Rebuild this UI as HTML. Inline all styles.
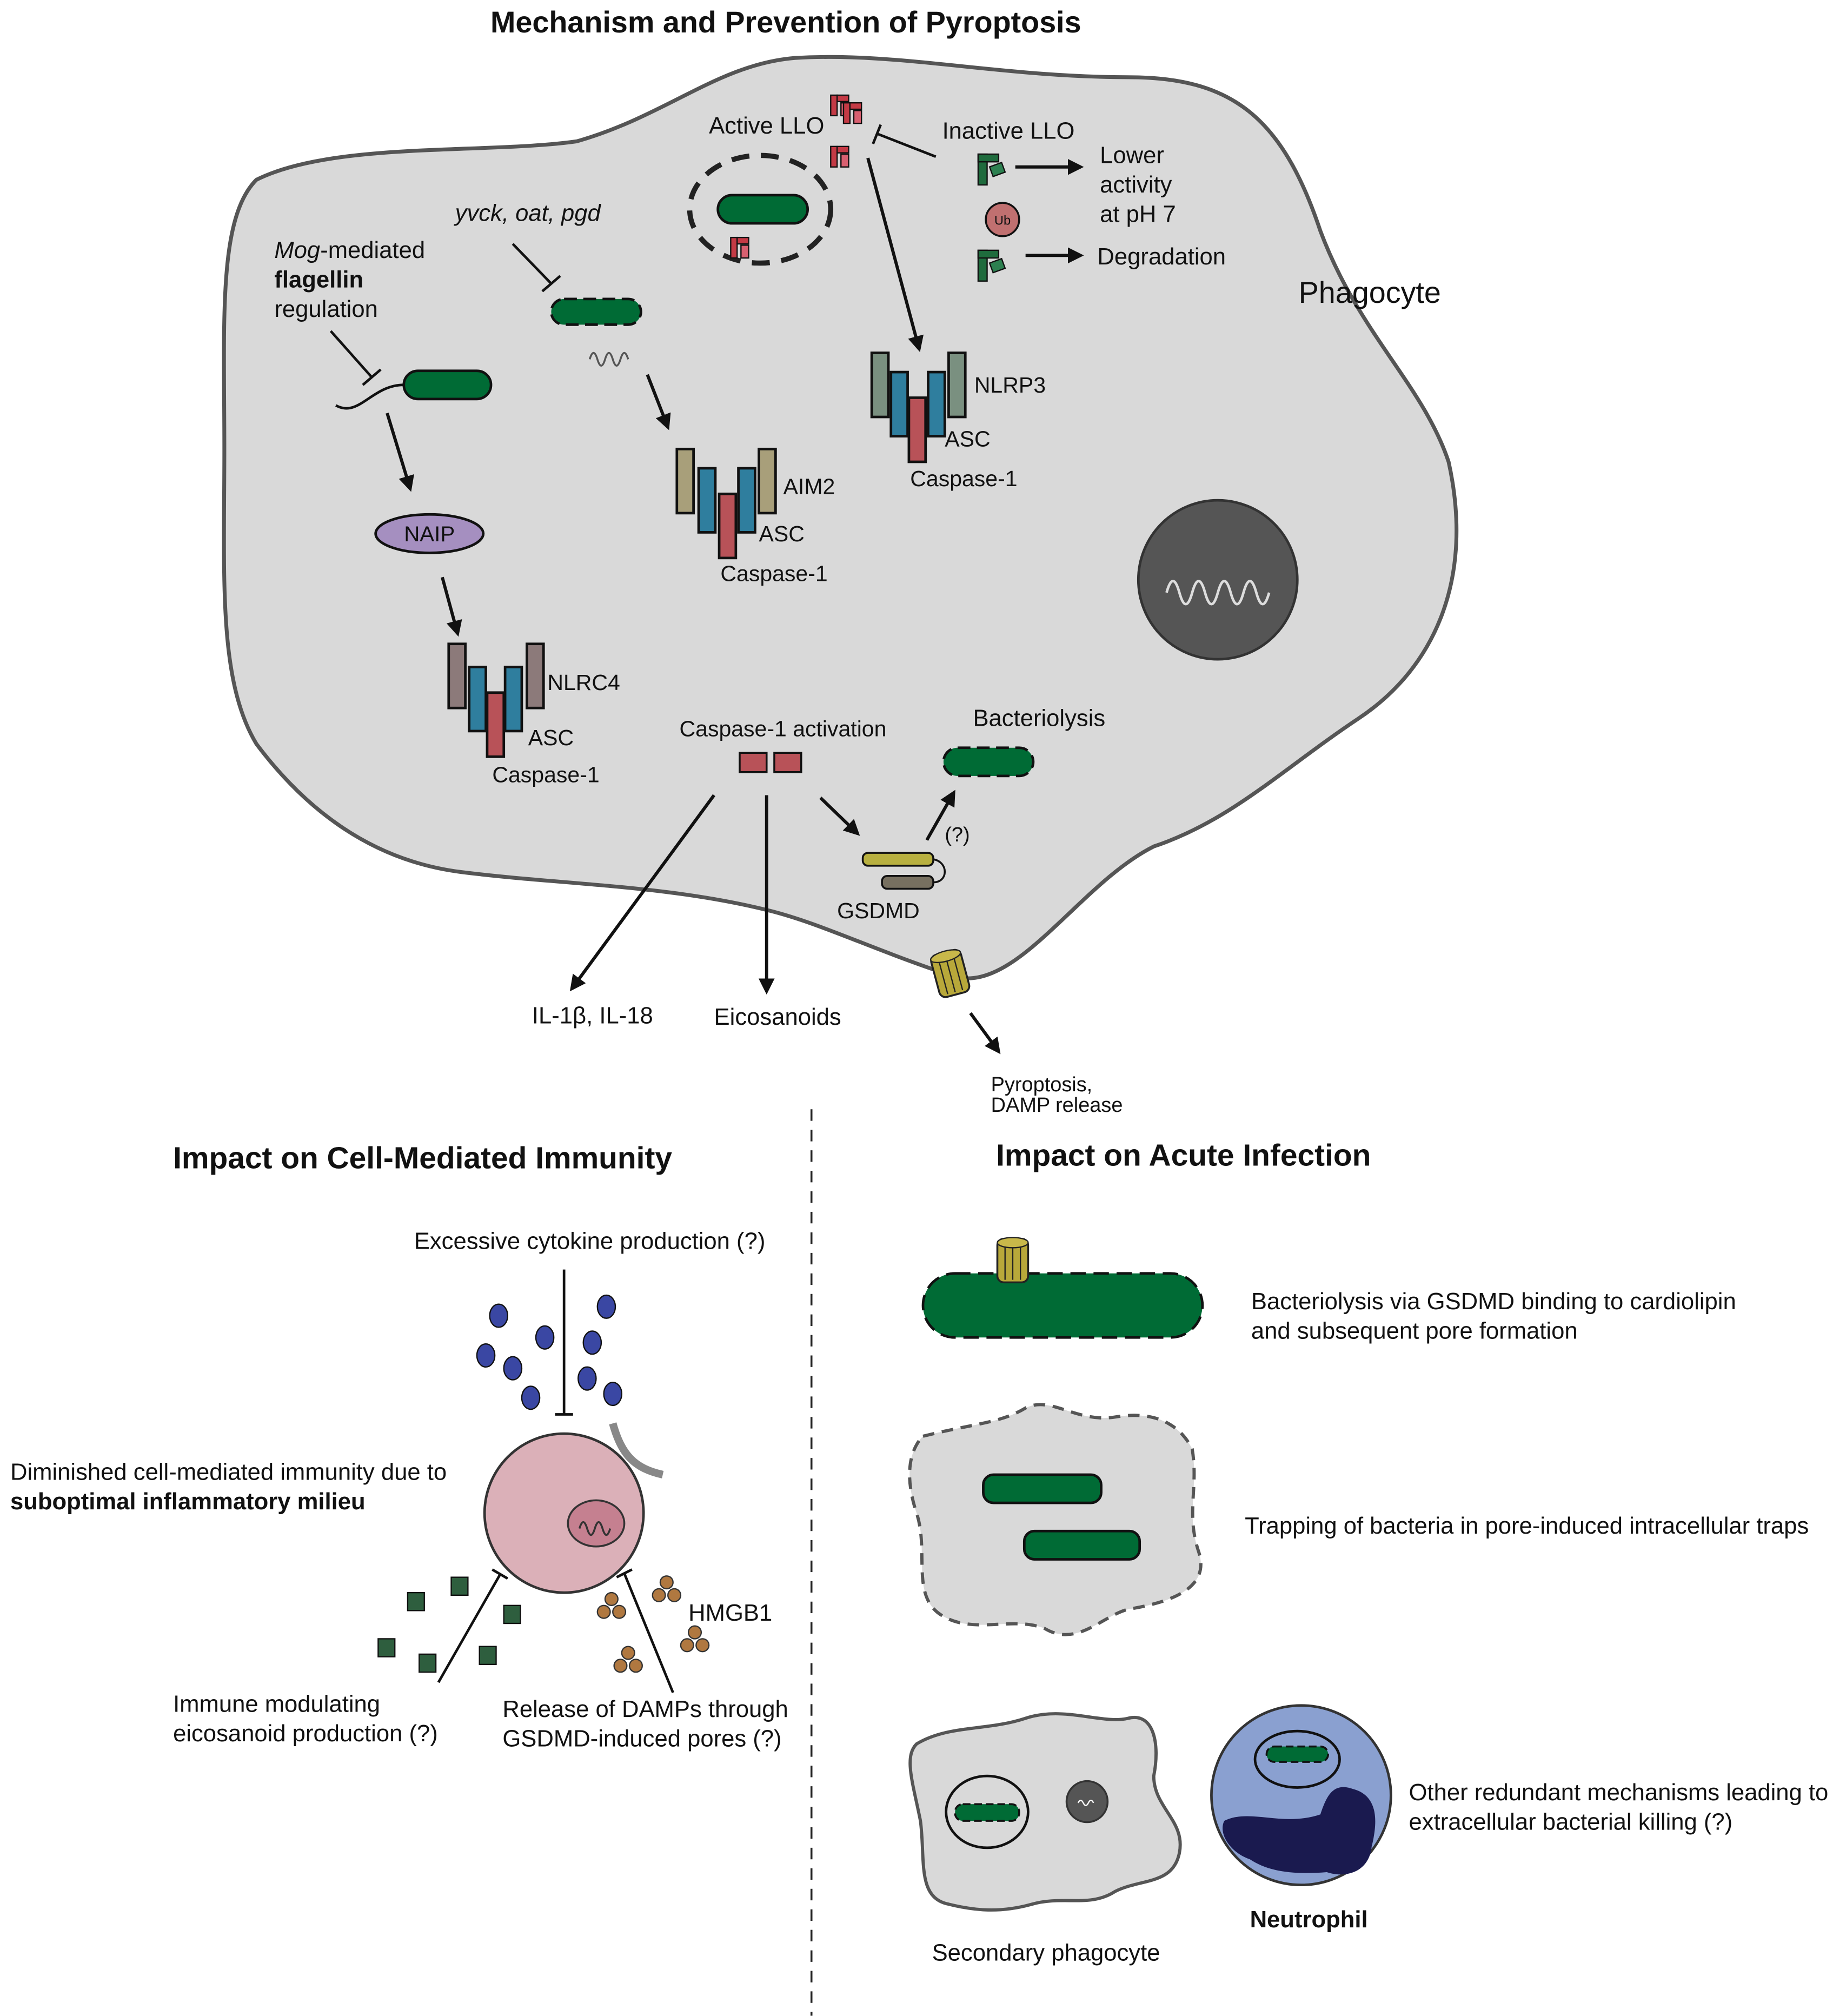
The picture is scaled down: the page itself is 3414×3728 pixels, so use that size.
<!DOCTYPE html>
<html><head><meta charset="utf-8"><style>
html,body{margin:0;padding:0;background:#fff;}
svg{display:block;}
text{font-family:"Liberation Sans",sans-serif;fill:#111;}
</style></head><body>
<svg width="3414" height="3728" viewBox="0 0 1440 1572" xmlns="http://www.w3.org/2000/svg">
<defs>
<marker id="ah" viewBox="0 0 10 10" refX="8" refY="5" markerWidth="5" markerHeight="5" orient="auto"><path d="M0,0 L10,5 L0,10 z" fill="#111"/></marker>
<g id="llo"><rect x="0" y="0" width="5" height="16" fill="#c43a45" stroke="#111" stroke-width="1"/><rect x="5" y="0" width="9" height="5" fill="#c43a45" stroke="#111" stroke-width="1"/><rect x="8" y="6" width="6" height="10" fill="#d86070" stroke="#111" stroke-width="1"/></g>
<g id="illo"><rect x="0" y="0" width="7" height="24" fill="#1f6b3d" stroke="#111" stroke-width="1"/><rect x="0" y="0" width="16" height="6" fill="#1f6b3d" stroke="#111" stroke-width="1"/><rect x="10" y="8" width="10" height="8" fill="#2d8050" stroke="#111" stroke-width="1" transform="rotate(-20 15 12)"/></g>
<g id="hm"><circle cx="0" cy="-6" r="5" fill="#b07840" stroke="#333" stroke-width="1"/><circle cx="-6" cy="4" r="5" fill="#b07840" stroke="#333" stroke-width="1"/><circle cx="6" cy="4" r="5" fill="#b07840" stroke="#333" stroke-width="1"/></g>
<g id="pore"><rect x="0" y="0" width="24" height="34" rx="5" fill="#b8a83a" stroke="#222" stroke-width="1.5"/><line x1="6" y1="2" x2="6" y2="32" stroke="#222"/><line x1="12" y1="2" x2="12" y2="32" stroke="#222"/><line x1="18" y1="2" x2="18" y2="32" stroke="#222"/><ellipse cx="12" cy="3" rx="12" ry="4" fill="#c8b84a" stroke="#222"/></g>
</defs>

<text x="613" y="25" font-size="23.5" font-weight="bold" text-anchor="middle">Mechanism and Prevention of Pyroptosis</text>

<path d="M200,140 C260,110 380,120 450,110 C520,90 560,50 620,45 C700,40 780,60 880,60 C960,60 1000,90 1030,180 C1060,260 1110,300 1130,360 C1150,450 1120,520 1060,560 C1000,600 960,640 900,660 C840,690 790,780 740,760 C680,740 640,720 600,710 C520,690 440,690 360,680 C280,670 230,620 200,580 C170,530 175,450 175,350 C175,250 170,170 200,140 Z" fill="#d9d9d9" stroke="#555" stroke-width="3"/>

<text x="214" y="201" font-size="18.4"><tspan font-style="italic">Mog</tspan>-mediated</text>
<text x="214" y="224" font-size="18.4" font-weight="bold">flagellin</text>
<text x="214" y="247" font-size="18.4">regulation</text>
<line x1="258" y1="258" x2="290" y2="294" stroke="#111" stroke-width="2"/>
<line x1="283" y1="300" x2="297" y2="288" stroke="#111" stroke-width="2"/>
<rect x="315" y="289" width="68" height="22" rx="11" fill="#006b35" stroke="#111" stroke-width="2"/>
<path d="M262,316 C280,326 290,300 315,300" fill="none" stroke="#111" stroke-width="2"/>
<line x1="302" y1="322" x2="320" y2="381" stroke="#111" stroke-width="2.5" marker-end="url(#ah)"/>
<ellipse cx="335" cy="416" rx="42" ry="15" fill="#a58fc0" stroke="#111" stroke-width="2"/>
<text x="335" y="422" font-size="17" text-anchor="middle">NAIP</text>
<line x1="345" y1="450" x2="357" y2="494" stroke="#111" stroke-width="2.5" marker-end="url(#ah)"/>
<g stroke="#111" stroke-width="2">
<rect x="350" y="502" width="13" height="50" fill="#8c7a7a"/><rect x="366" y="520" width="13" height="50" fill="#2f7e9e"/><rect x="380" y="540" width="13" height="50" fill="#b85258"/><rect x="394" y="520" width="13" height="50" fill="#2f7e9e"/><rect x="411" y="502" width="13" height="50" fill="#8c7a7a"/>
</g>
<text x="427" y="538" font-size="17.3">NLRC4</text>
<text x="412" y="581" font-size="17.3">ASC</text>
<text x="384" y="610" font-size="17.3">Caspase-1</text>

<text x="355" y="172" font-size="18.4" font-style="italic">yvck, oat, pgd</text>
<line x1="400" y1="190" x2="430" y2="221" stroke="#111" stroke-width="2"/>
<line x1="423" y1="227" x2="437" y2="215" stroke="#111" stroke-width="2"/>
<rect x="430" y="233" width="70" height="20" rx="10" fill="#006b35" stroke="#111" stroke-width="2" stroke-dasharray="10,5"/>
<path d="M460,280 q3,-10 6,0 t6,0 t6,0 t6,0 t6,0" fill="none" stroke="#555" stroke-width="1.5"/>
<line x1="505" y1="292" x2="521" y2="333" stroke="#111" stroke-width="2.5" marker-end="url(#ah)"/>
<g stroke="#111" stroke-width="2">
<rect x="528" y="350" width="13" height="50" fill="#a89f7a"/><rect x="545" y="365" width="13" height="50" fill="#2f7e9e"/><rect x="561" y="385" width="13" height="50" fill="#b85258"/><rect x="576" y="365" width="13" height="50" fill="#2f7e9e"/><rect x="592" y="350" width="13" height="50" fill="#a89f7a"/>
</g>
<text x="611" y="385" font-size="17.3">AIM2</text>
<text x="592" y="422" font-size="17.3">ASC</text>
<text x="562" y="453" font-size="17.3">Caspase-1</text>

<ellipse cx="593" cy="163" rx="55" ry="42" fill="none" stroke="#222" stroke-width="4" stroke-dasharray="14,9"/>
<rect x="560" y="152" width="70" height="22" rx="11" fill="#006b35" stroke="#111" stroke-width="2"/>
<use href="#llo" x="570" y="185"/>
<use href="#llo" x="648" y="74"/><use href="#llo" x="658" y="80"/>
<use href="#llo" x="648" y="114"/>
<text x="553" y="104" font-size="18.4">Active LLO</text>
<line x1="730" y1="122" x2="684" y2="104" stroke="#111" stroke-width="2"/>
<line x1="681" y1="112" x2="687" y2="97" stroke="#111" stroke-width="2"/>
<text x="735" y="108" font-size="18.4">Inactive LLO</text>
<use href="#illo" x="763" y="120"/>
<use href="#illo" x="763" y="195"/>
<circle cx="782" cy="171" r="13" fill="#c07070" stroke="#111" stroke-width="1.5"/>
<text x="782" y="175" font-size="10" text-anchor="middle">Ub</text>
<line x1="792" y1="130" x2="843" y2="130" stroke="#111" stroke-width="2.5" marker-end="url(#ah)"/>
<text x="858" y="127" font-size="18.4">Lower</text>
<text x="858" y="150" font-size="18.4">activity</text>
<text x="858" y="173" font-size="18.4">at pH 7</text>
<line x1="800" y1="199" x2="843" y2="199" stroke="#111" stroke-width="2.5" marker-end="url(#ah)"/>
<text x="856" y="206" font-size="18.4">Degradation</text>
<line x1="677" y1="123" x2="717" y2="272" stroke="#111" stroke-width="2.5" marker-end="url(#ah)"/>
<g stroke="#111" stroke-width="2">
<rect x="680" y="275" width="13" height="50" fill="#7a9080"/><rect x="695" y="290" width="13" height="50" fill="#2f7e9e"/><rect x="709" y="310" width="13" height="50" fill="#b85258"/><rect x="724" y="290" width="13" height="50" fill="#2f7e9e"/><rect x="740" y="275" width="13" height="50" fill="#7a9080"/>
</g>
<text x="760" y="306" font-size="17.3">NLRP3</text>
<text x="737" y="348" font-size="17.3">ASC</text>
<text x="710" y="379" font-size="17.3">Caspase-1</text>

<text x="1013" y="236" font-size="23.5">Phagocyte</text>
<circle cx="950" cy="452" r="62" fill="#555" stroke="#333" stroke-width="2"/>
<path d="M910,462 q5,-18 10,0 t10,0 t10,0 t10,0 t10,0 t10,0 t10,0 t10,0" fill="none" stroke="#ddd" stroke-width="2"/>

<text x="530" y="574" font-size="17.3">Caspase-1 activation</text>
<rect x="577" y="587" width="21" height="15" fill="#b85258" stroke="#111" stroke-width="1.5"/>
<rect x="604" y="587" width="21" height="15" fill="#b85258" stroke="#111" stroke-width="1.5"/>
<text x="759" y="566" font-size="18.4">Bacteriolysis</text>
<rect x="736" y="583" width="70" height="22" rx="11" fill="#006b35" stroke="#111" stroke-width="2" stroke-dasharray="10,5"/>
<line x1="557" y1="620" x2="446" y2="771" stroke="#111" stroke-width="2.5" marker-end="url(#ah)"/>
<line x1="598" y1="620" x2="598" y2="773" stroke="#111" stroke-width="2.5" marker-end="url(#ah)"/>
<line x1="640" y1="622" x2="669" y2="650" stroke="#111" stroke-width="2.5" marker-end="url(#ah)"/>
<line x1="723" y1="655" x2="744" y2="618" stroke="#111" stroke-width="2.5" marker-end="url(#ah)"/>
<text x="737" y="656" font-size="16">(?)</text>
<rect x="673" y="665" width="55" height="10" rx="4" fill="#b8b040" stroke="#111" stroke-width="1.5"/>
<rect x="688" y="683" width="40" height="10" rx="4" fill="#777060" stroke="#111" stroke-width="1.5"/>
<path d="M728,670 C740,672 740,688 728,688" fill="none" stroke="#111" stroke-width="1.5"/>
<text x="653" y="716" font-size="17.3">GSDMD</text>
<g transform="rotate(-15 742 762)"><use href="#pore" x="730" y="742"/></g>
<line x1="757" y1="790" x2="779" y2="820" stroke="#111" stroke-width="2.5" marker-end="url(#ah)"/>
<text x="773" y="851" font-size="16">Pyroptosis,</text>
<text x="773" y="867" font-size="16">DAMP release</text>
<text x="415" y="798" font-size="18.4">IL-1β, IL-18</text>
<text x="557" y="799" font-size="18.4">Eicosanoids</text>

<line x1="633" y1="865" x2="633" y2="1572" stroke="#222" stroke-width="1.5" stroke-dasharray="9,7"/>

<text x="135" y="911" font-size="24" font-weight="bold">Impact on Cell-Mediated Immunity</text>
<text x="323" y="974" font-size="18.4">Excessive cytokine production (?)</text>
<line x1="440" y1="990" x2="440" y2="1103" stroke="#111" stroke-width="2"/>
<line x1="433" y1="1103" x2="447" y2="1103" stroke="#111" stroke-width="2"/>
<g fill="#3a47a3" stroke="#111" stroke-width="1">
<ellipse cx="389" cy="1026" rx="7" ry="9"/><ellipse cx="473" cy="1019" rx="7" ry="9"/><ellipse cx="425" cy="1043" rx="7" ry="9"/><ellipse cx="462" cy="1047" rx="7" ry="9"/><ellipse cx="379" cy="1057" rx="7" ry="9"/><ellipse cx="400" cy="1067" rx="7" ry="9"/><ellipse cx="458" cy="1075" rx="7" ry="9"/><ellipse cx="414" cy="1090" rx="7" ry="9"/><ellipse cx="478" cy="1087" rx="7" ry="9"/>
</g>
<circle cx="440" cy="1180" r="62" fill="#dbb0b8" stroke="#333" stroke-width="2"/>
<ellipse cx="465" cy="1188" rx="22" ry="18" fill="#c58090" stroke="#333" stroke-width="1.5"/>
<path d="M452,1192 q3,-10 6,0 t6,0 t6,0 t6,0" fill="none" stroke="#333" stroke-width="1.5"/>
<path d="M478,1110 C485,1135 495,1145 517,1150" fill="none" stroke="#888" stroke-width="6"/>
<text x="8" y="1154" font-size="18.4">Diminished cell-mediated immunity due to</text>
<text x="8" y="1177" font-size="18.4" font-weight="bold">suboptimal inflammatory milieu</text>
<g fill="#2e5e3e" stroke="#111" stroke-width="1">
<rect x="318" y="1242" width="13" height="14"/><rect x="352" y="1230" width="13" height="14"/><rect x="393" y="1252" width="13" height="14"/><rect x="295" y="1278" width="13" height="14"/><rect x="327" y="1290" width="13" height="14"/><rect x="374" y="1284" width="13" height="14"/>
</g>
<line x1="342" y1="1312" x2="390" y2="1228" stroke="#111" stroke-width="2"/>
<line x1="384" y1="1224" x2="396" y2="1231" stroke="#111" stroke-width="2"/>
<line x1="525" y1="1320" x2="487" y2="1227" stroke="#111" stroke-width="2"/>
<line x1="481" y1="1230" x2="493" y2="1224" stroke="#111" stroke-width="2"/>
<use href="#hm" x="477" y="1253"/><use href="#hm" x="520" y="1240"/><use href="#hm" x="542" y="1279"/><use href="#hm" x="490" y="1295"/>
<text x="537" y="1264" font-size="18.4">HMGB1</text>
<text x="135" y="1335" font-size="18.4">Immune modulating</text>
<text x="135" y="1358" font-size="18.4">eicosanoid production (?)</text>
<text x="392" y="1339" font-size="18.4">Release of DAMPs through</text>
<text x="392" y="1362" font-size="18.4">GSDMD-induced pores (?)</text>

<text x="777" y="909" font-size="24" font-weight="bold">Impact on Acute Infection</text>
<rect x="720" y="993" width="218" height="50" rx="25" fill="#006b35" stroke="#111" stroke-width="2" stroke-dasharray="12,6"/>
<use href="#pore" x="778" y="966"/>
<text x="976" y="1021" font-size="18.4">Bacteriolysis via GSDMD binding to cardiolipin</text>
<text x="976" y="1044" font-size="18.4">and subsequent pore formation</text>
<path d="M720,1120 C760,1110 780,1110 800,1098 C820,1088 840,1110 870,1105 C900,1100 920,1110 930,1130 C935,1160 925,1180 935,1210 C945,1240 910,1250 880,1255 C860,1260 840,1285 815,1270 C790,1260 760,1275 735,1260 C710,1245 725,1210 715,1180 C705,1150 710,1130 720,1120 Z" fill="#d9d9d9" stroke="#555" stroke-width="2.5" stroke-dasharray="9,6"/>
<rect x="767" y="1150" width="92" height="22" rx="8" fill="#006b35" stroke="#111" stroke-width="2"/>
<rect x="799" y="1194" width="90" height="22" rx="8" fill="#006b35" stroke="#111" stroke-width="2"/>
<text x="971" y="1196" font-size="18.4">Trapping of bacteria in pore-induced intracellular traps</text>
<path d="M715,1360 C740,1345 770,1350 800,1340 C830,1330 860,1345 880,1340 C900,1335 905,1360 900,1385 C900,1410 925,1420 920,1445 C915,1470 890,1465 870,1475 C850,1488 830,1478 805,1485 C780,1492 760,1490 740,1485 C715,1480 722,1450 718,1420 C712,1390 705,1370 715,1360 Z" fill="#d9d9d9" stroke="#555" stroke-width="2.5"/>
<ellipse cx="770" cy="1413" rx="32" ry="28" fill="none" stroke="#111" stroke-width="2"/>
<rect x="745" y="1407" width="50" height="13" rx="6" fill="#006b35" stroke="#111" stroke-width="1.5" stroke-dasharray="6,3"/>
<circle cx="848" cy="1405" r="16" fill="#555" stroke="#333" stroke-width="1.5"/>
<path d="M841,1406 q2,-4 4,0 t4,0 t4,0" fill="none" stroke="#fff" stroke-width="1"/>
<text x="727" y="1529" font-size="18.4">Secondary phagocyte</text>
<circle cx="1015" cy="1400" r="70" fill="#8aa0d0" stroke="#333" stroke-width="2"/>
<path d="M955,1420 C975,1410 1000,1425 1030,1415 C1035,1400 1040,1390 1055,1395 C1075,1400 1075,1420 1070,1440 C1068,1460 1050,1465 1035,1460 C1010,1462 990,1460 975,1450 C960,1445 950,1430 955,1420 Z" fill="#1a1a4f"/>
<ellipse cx="1012" cy="1372" rx="33" ry="22" fill="#8aa0d0" stroke="#111" stroke-width="2"/>
<rect x="988" y="1362" width="48" height="12" rx="6" fill="#006b35" stroke="#111" stroke-width="1.5" stroke-dasharray="6,3"/>
<text x="975" y="1503" font-size="18.4" font-weight="bold">Neutrophil</text>
<text x="1099" y="1404" font-size="18.4">Other redundant mechanisms leading to</text>
<text x="1099" y="1427" font-size="18.4">extracellular bacterial killing (?)</text>
</svg>
</body></html>
